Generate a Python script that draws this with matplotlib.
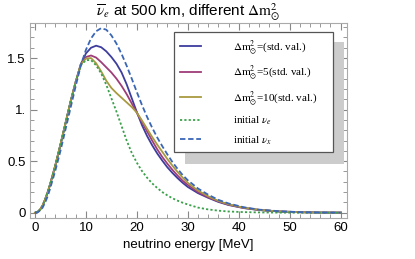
import numpy as np
import matplotlib
matplotlib.use("Agg")
import matplotlib.pyplot as plt
from matplotlib.patches import Rectangle
from matplotlib.ticker import MultipleLocator, FixedLocator, FixedFormatter

energy = [0, 0.5, 1, 1.5, 2, 2.5, 3, 4, 5, 6, 7, 8, 9, 10, 11, 12, 13, 14, 15, 16, 17,
          18, 19, 20, 21, 22, 23, 24, 25, 26, 27, 28, 29, 30,
          32, 34, 36, 38, 41, 44, 48, 52, 56, 60]

# anti-nu_e spectrum at 500 km, Delta m^2 = std. value
std_val = [0, 0.008, 0.03, 0.07, 0.13, 0.2, 0.28, 0.46, 0.66, 0.87, 1.08, 1.27,
           1.44, 1.545, 1.60, 1.62, 1.605, 1.565, 1.51, 1.445, 1.36, 1.245, 1.11, 0.975,
           0.85, 0.745, 0.655, 0.575, 0.505, 0.44, 0.385, 0.335, 0.29, 0.25,
           0.19, 0.145, 0.105, 0.075, 0.045, 0.026, 0.012, 0.005, 0.002, 0.001]
# Delta m^2 = 5 x std. value
five_std = [0, 0.008, 0.03, 0.07, 0.13, 0.2, 0.28, 0.46, 0.66, 0.87, 1.08, 1.27,
            1.44, 1.51, 1.525, 1.505, 1.46, 1.41, 1.36, 1.30, 1.23, 1.15, 1.06, 0.97,
            0.88, 0.79, 0.70, 0.615, 0.54, 0.475, 0.415, 0.36, 0.31, 0.27,
            0.20, 0.15, 0.11, 0.078, 0.047, 0.027, 0.012, 0.005, 0.002, 0.001]
# Delta m^2 = 10 x std. value
ten_std = [0, 0.008, 0.03, 0.07, 0.13, 0.2, 0.28, 0.46, 0.66, 0.87, 1.08, 1.27,
           1.44, 1.495, 1.50, 1.45, 1.37, 1.28, 1.21, 1.16, 1.115, 1.07, 1.025, 0.97,
           0.895, 0.815, 0.735, 0.66, 0.59, 0.52, 0.455, 0.395, 0.34, 0.29,
           0.215, 0.16, 0.115, 0.082, 0.049, 0.028, 0.013, 0.005, 0.002, 0.001]
# initial nu_e
init_nue = [0, 0.008, 0.03, 0.07, 0.13, 0.2, 0.28, 0.46, 0.66, 0.87, 1.08, 1.27,
            1.43, 1.48, 1.48, 1.43, 1.35, 1.24, 1.11, 0.98, 0.84, 0.70, 0.58, 0.485,
            0.405, 0.34, 0.285, 0.24, 0.20, 0.168, 0.14, 0.117, 0.097, 0.08,
            0.05, 0.032, 0.02, 0.012, 0.006, 0.003, 0.001, 0, 0, 0]
# initial nu_x
init_nux = [0, 0.004, 0.02, 0.05, 0.10, 0.16, 0.24, 0.41, 0.60, 0.81, 1.02, 1.23,
            1.43, 1.58, 1.69, 1.76, 1.79, 1.775, 1.72, 1.64, 1.54, 1.425, 1.30, 1.17,
            1.045, 0.93, 0.825, 0.73, 0.645, 0.565, 0.49, 0.425, 0.365, 0.315,
            0.235, 0.175, 0.125, 0.09, 0.053, 0.03, 0.014, 0.006, 0.002, 0.001]

ytick_vals = [0, 0.5, 1.0, 1.5]
ytick_labels = ["0", "0.5", "1.", "1.5"]

plt.rcParams["font.family"] = ["Liberation Sans", "DejaVu Sans"]
plt.rcParams["mathtext.fontset"] = "stix"

W, H = 415, 259
fig = plt.figure(figsize=(W / 100, H / 100), dpi=100)
ax = fig.add_axes([30 / W, 1 - 218.3 / H, (346.7 - 30) / W, (218.3 - 22.7) / H])

ax.plot(energy, std_val, color="#3d3d9e", lw=1.3, label=r"$\Delta\mathrm{m}^2_{\odot}$=(std. val.)")
ax.plot(energy, five_std, color="#9e3d78", lw=1.3, label=r"$\Delta\mathrm{m}^2_{\odot}$=5(std. val.)")
ax.plot(energy, ten_std, color="#a89a40", lw=1.3, label=r"$\Delta\mathrm{m}^2_{\odot}$=10(std. val.)")
ax.plot(energy, init_nue, color="#3aa04a", lw=1.3, ls=(0, (1.2, 1.2)), label=r"initial $\nu_e$")
ax.plot(energy, init_nux, color="#3a66b5", lw=1.3, ls=(0, (3, 1.5)), label=r"initial $\nu_x$")

ax.set_xlim(-0.98, 61.2)
ax.set_ylim(-0.054, 1.843)

ax.xaxis.set_major_locator(MultipleLocator(10))
ax.xaxis.set_minor_locator(MultipleLocator(2))
ax.yaxis.set_major_locator(FixedLocator(ytick_vals))
ax.yaxis.set_major_formatter(FixedFormatter(ytick_labels))
ax.yaxis.set_minor_locator(MultipleLocator(0.1))
ax.tick_params(which="both", direction="in", top=True, right=True, color="#888888",
               labelsize=9.5, pad=3)
ax.tick_params(which="major", length=5)
ax.tick_params(which="minor", length=2.8)
for sp in ax.spines.values():
    sp.set_color("#aaaaaa")

ax.set_xlabel("neutrino energy [MeV]", fontsize=9.5, labelpad=3)
ax.set_title(r"$\overline{\nu}_e$ at 500 km, different $\Delta\mathrm{m}^2_{\odot}$",
             fontsize=11, pad=4)

# drop shadow of the legend box
shadow = Rectangle((184.5 / W, 1 - 164 / H), (344 - 184.5) / W, (164 - 42) / H,
                   transform=fig.transFigure, facecolor="#cccccc", edgecolor="none",
                   zorder=4)
ax.add_artist(shadow)

leg = ax.legend(loc="upper left", bbox_to_anchor=(174 / W, 1 - 154.3 / H, 159.3 / W, 122 / H),
                bbox_transform=fig.transFigure, mode="expand", borderaxespad=0,
                prop={"family": "Liberation Serif", "size": 8}, handlelength=1.9,
                handletextpad=2.9, labelspacing=0.62, borderpad=0.5, fancybox=False,
                framealpha=1)
leg.get_frame().set_edgecolor("#555555")
leg.get_frame().set_linewidth(0.9)
leg.set_zorder(5)

fig.savefig("out.png", dpi=100)
